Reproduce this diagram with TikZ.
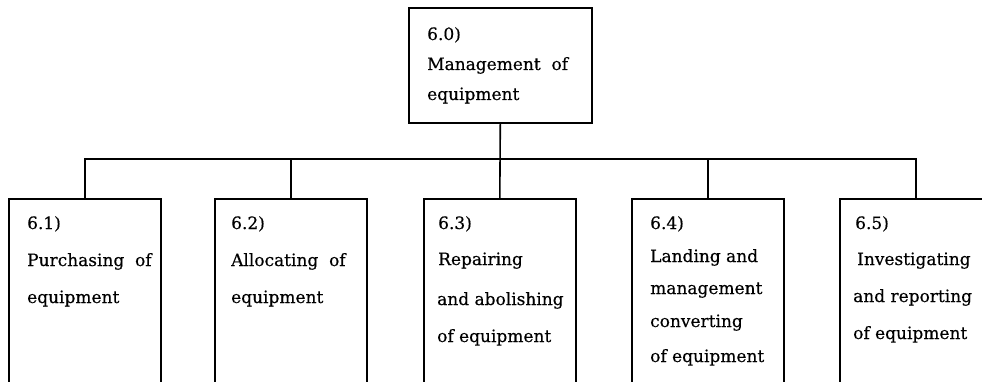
\documentclass[tikz,border=0pt]{standalone}
\usepackage{fontspec}
\setmainfont{DejaVu Serif}[FakeBold=0.4]
\begin{document}
\begin{tikzpicture}[x=1pt,y=1pt,
  box/.style={draw, line width=1.6pt, rectangle, anchor=north west, inner sep=0pt},
  topbox/.style={box, minimum width=183pt, minimum height=115pt},
  childbox/.style={box, minimum width=152pt, minimum height=220pt},
  txt/.style={anchor=base west, inner sep=0pt, font=\fontsize{17}{20}\selectfont},
  wire/.style={line width=1.6pt}]
\useasboundingbox (0,0) rectangle (982,381);
\clip (0,0) rectangle (982,381);

% boxes
\node[topbox] (top) at (408,374) {};
\node[childbox] (c1) at (8,183) {};
\node[childbox] (c2) at (214,183) {};
\node[childbox] (c3) at (423,183) {};
\node[childbox] (c4) at (631,183) {};
\node[childbox] (c5) at (839,183) {};

% bus
\coordinate (bus) at (84,222);
\draw[wire] (c1.north) |- (c5.north |- bus) -- (c5.north);
\draw[wire] (top.south) -- (c3.north);
\draw[wire] (c2.north) -- (c2.north |- bus);
\draw[wire] (c4.north) -- (c4.north |- bus);

% texts
\node[txt] (t0a) at (427,341) {6.0)};
\node[txt] (t0b) at (427,311) {Management\ \ of};
\node[txt] (t0c) at (427,281) {equipment};

\node[txt] (t1a) at (27,152) {6.1)};
\node[txt] (t1b) at (27,115) {Purchasing\ \ of};
\node[txt] (t1c) at (27,78) {equipment};

\node[txt] (t2a) at (231,152) {6.2)};
\node[txt] (t2b) at (231,115) {Allocating\ \ of};
\node[txt] (t2c) at (231,78) {equipment};

\node[txt] (t3a) at (438,152) {6.3)};
\node[txt] (t3b) at (438,116) {Repairing};
\node[txt] (t3c) at (437,76) {and\ abolishing};
\node[txt] (t3d) at (437,39) {of\ equipment};

\node[txt] (t4a) at (650,152) {6.4)};
\node[txt] (t4b) at (650,119) {Landing\ and};
\node[txt] (t4c) at (650,87) {management};
\node[txt] (t4d) at (650,54) {converting};
\node[txt] (t4e) at (650,19) {of\ equipment};

\node[txt] (t5a) at (855,152) {6.5)};
\node[txt] (t5b) at (857,116) {Investigating};
\node[txt] (t5c) at (853,79) {and\ reporting};
\node[txt] (t5d) at (853,42) {of\ equipment};
\end{tikzpicture}
\end{document}
